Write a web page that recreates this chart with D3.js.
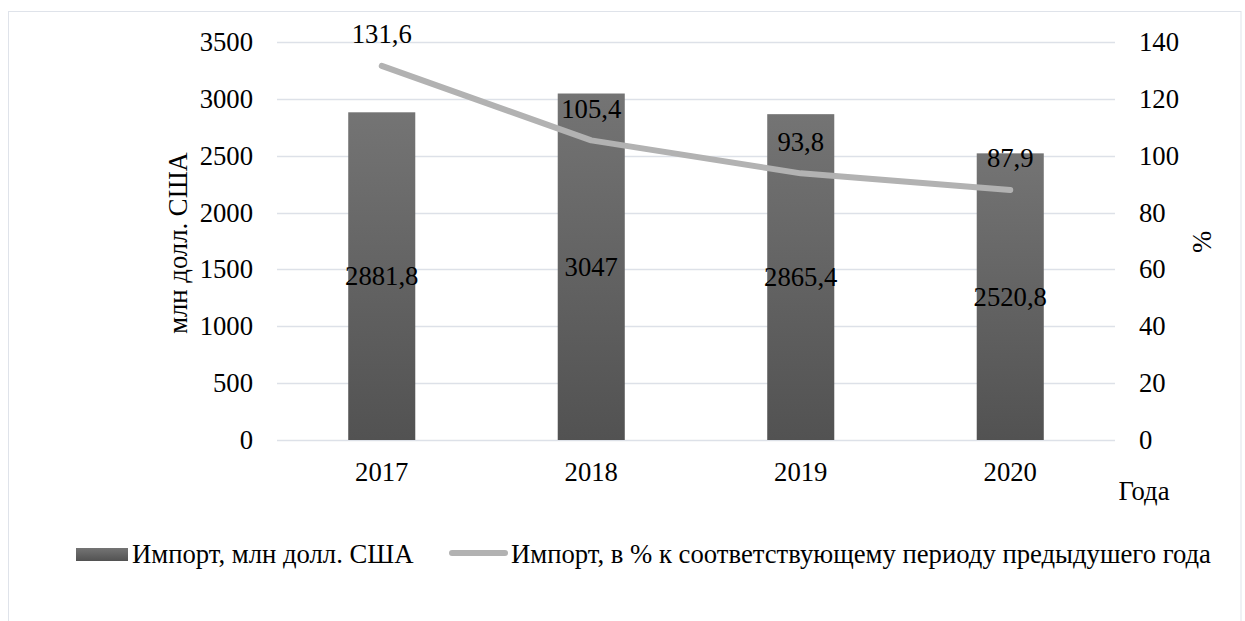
<html>
<head>
<meta charset="utf-8">
<title>Импорт</title>
<style>
  body { margin: 0; background: white; }
  svg text { font-family: "Liberation Serif", "DejaVu Serif", serif; fill: #000; font-size: 26.7px; }
</style>
</head>
<body>
<div id="chart"></div>
<script src="https://d3js.org/d3.v7.min.js"></script>
<script>
// данные
const years = ["2017", "2018", "2019", "2020"];
const importValues = [2881.8, 3047, 2865.4, 2520.8];
const importPercent = [131.6, 105.4, 93.8, 87.9];
const leftTicks = [0, 500, 1000, 1500, 2000, 2500, 3000, 3500];
const rightTicks = [0, 20, 40, 60, 80, 100, 120, 140];
const fmt = v => String(v).replace(".", ",");

const width = 1245, height = 621;
const svg = d3.select("#chart").append("svg")
  .attr("width", width).attr("height", height);

const defs = svg.append("defs");
const grad = defs.append("linearGradient").attr("id", "barGrad")
  .attr("x1", 0).attr("y1", 0).attr("x2", 0).attr("y2", 1);
grad.append("stop").attr("offset", "0%").attr("stop-color", "#747474");
grad.append("stop").attr("offset", "100%").attr("stop-color", "#525252");

// рамка
svg.append("rect").attr("x", 8.5).attr("y", 11.5).attr("width", 1232.5).attr("height", 640)
  .attr("fill", "none").attr("stroke", "#dfe3ea").attr("stroke-width", 1);

const plotLeft = 277, plotRight = 1115, plotTop = 42, plotBottom = 440;

const x = d3.scaleBand().domain(years).range([plotLeft, plotRight]).paddingInner(0.68).paddingOuter(0.34);
const yL = d3.scaleLinear().domain([0, 3500]).range([plotBottom, plotTop]);
const yR = d3.scaleLinear().domain([0, 140]).range([plotBottom, plotTop]);

// сетка
svg.append("g").selectAll("line").data(leftTicks).join("line")
  .attr("x1", plotLeft).attr("x2", plotRight)
  .attr("y1", d => Math.round(yL(d)) + 0.5).attr("y2", d => Math.round(yL(d)) + 0.5)
  .attr("stroke", "#dde1e8").attr("stroke-width", 1.5);

// левая ось
const axL = svg.append("g").attr("transform", `translate(${plotLeft},0)`)
  .call(d3.axisLeft(yL).tickValues(leftTicks).tickFormat(d3.format("d")).tickSize(0).tickPadding(24));
axL.select(".domain").remove();

// правая ось
const axR = svg.append("g").attr("transform", `translate(${plotRight},0)`)
  .call(d3.axisRight(yR).tickValues(rightTicks).tickSize(0).tickPadding(24));
axR.select(".domain").remove();

// ось X
const axX = svg.append("g").attr("transform", `translate(0,${plotBottom})`)
  .call(d3.axisBottom(x).tickSize(0).tickPadding(22));
axX.select(".domain").remove();

// столбцы
svg.append("g").selectAll("rect").data(importValues).join("rect")
  .attr("x", (d, i) => x(years[i]))
  .attr("y", d => yL(d))
  .attr("width", x.bandwidth())
  .attr("height", d => yL(0) - yL(d))
  .attr("fill", "url(#barGrad)");

// линия
const line = d3.line().x((d, i) => x(years[i]) + x.bandwidth() / 2).y(d => yR(d));
svg.append("path").datum(importPercent)
  .attr("d", line).attr("fill", "none")
  .attr("stroke", "#b2b2b2").attr("stroke-width", 6)
  .attr("stroke-linecap", "round").attr("stroke-linejoin", "round");

// подписи столбцов
svg.append("g").selectAll("text").data(importValues).join("text")
  .attr("x", (d, i) => x(years[i]) + x.bandwidth() / 2)
  .attr("y", d => (yL(d) + yL(0)) / 2)
  .attr("dy", "0.35em").attr("text-anchor", "middle")
  .text(d => fmt(d));

// подписи линии
svg.append("g").selectAll("text").data(importPercent).join("text")
  .attr("x", (d, i) => x(years[i]) + x.bandwidth() / 2)
  .attr("y", d => yR(d) - 32)
  .attr("dy", "0.35em").attr("text-anchor", "middle")
  .text(d => fmt(d));

// заголовки осей
svg.append("text").attr("transform", "translate(178,243) rotate(-90)")
  .attr("text-anchor", "middle").attr("dy", "0.35em")
  .text("млн долл. США");
svg.append("text").attr("transform", "translate(1202,242) rotate(-90)")
  .attr("text-anchor", "middle").attr("dy", "0.35em")
  .text("%");
svg.append("text").attr("x", 1144).attr("y", 491)
  .attr("text-anchor", "middle").attr("dy", "0.35em")
  .text("Года");

// легенда
const lg = svg.append("g");
lg.append("rect").attr("x", 76).attr("y", 548).attr("width", 52).attr("height", 13)
  .attr("fill", "url(#barGrad)");
lg.append("text").attr("x", 132).attr("y", 554).attr("dy", "0.35em")
  .text("Импорт, млн долл. США");
lg.append("line").attr("x1", 452).attr("x2", 505).attr("y1", 553).attr("y2", 553)
  .attr("stroke", "#b2b2b2").attr("stroke-width", 6).attr("stroke-linecap", "round");
lg.append("text").attr("x", 511).attr("y", 554).attr("dy", "0.35em")
  .text("Импорт, в % к соответствующему периоду предыдушего года");
</script>
</body>
</html>
